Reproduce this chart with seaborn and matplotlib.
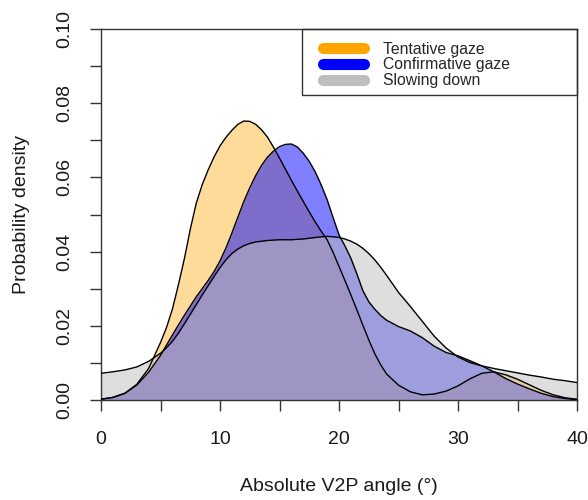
import numpy as np
import pandas as pd
import seaborn as sns
import matplotlib.pyplot as plt
from matplotlib.patches import Rectangle
from matplotlib.lines import Line2D

# density curves (x = absolute V2P angle)
angle = [0, 1, 2, 3, 4,
         5, 5.5, 6, 6.5, 7, 7.5, 8, 8.5, 9, 9.5, 10, 10.5, 11, 11.5, 12, 12.5,
         13, 13.5, 14, 14.5, 15, 15.5, 16, 16.5, 17, 17.5, 18, 18.5, 19, 19.5,
         20, 20.5, 21, 21.5, 22, 22.5, 23, 23.5, 24,
         25, 26, 27, 28, 29, 30, 31, 32, 33, 34, 35, 36, 37, 38, 39, 40]

tentative = [0.0002, 0.0007, 0.0018, 0.0042, 0.0085,
             0.0155, 0.0195, 0.0245, 0.0310, 0.0380, 0.0460, 0.0530, 0.0580, 0.0620, 0.0655,
             0.0685, 0.0708, 0.0727, 0.0743, 0.0752, 0.0751, 0.0743, 0.0728, 0.0708, 0.0681,
             0.0652, 0.0622, 0.0592, 0.0563, 0.0535, 0.0507, 0.0480, 0.0455, 0.0432, 0.0398,
             0.0360, 0.0322, 0.0283, 0.0243, 0.0202, 0.0162, 0.0125, 0.0095, 0.0070,
             0.0040, 0.0022, 0.0014, 0.0016, 0.0024, 0.0038, 0.0057, 0.0072, 0.0076, 0.0068,
             0.0056, 0.0041, 0.0026, 0.0014, 0.0006, 0.0002]

confirmative = [0.0002, 0.0007, 0.0018, 0.0040, 0.0075,
                0.0120, 0.0148, 0.0175, 0.0202, 0.0228, 0.0253, 0.0278, 0.0300, 0.0322, 0.0346,
                0.0375, 0.0410, 0.0450, 0.0493, 0.0535, 0.0572, 0.0605, 0.0633, 0.0655, 0.0671,
                0.0683, 0.0689, 0.0690, 0.0682, 0.0665, 0.0643, 0.0615, 0.0580, 0.0540, 0.0492,
                0.0445, 0.0415, 0.0382, 0.0340, 0.0295, 0.0265, 0.0245, 0.0228, 0.0215,
                0.0198, 0.0186, 0.0168, 0.0145, 0.0128, 0.0119, 0.0106, 0.0092, 0.0076, 0.0058,
                0.0043, 0.0030, 0.0018, 0.0009, 0.0004, 0.0001]

slowing = [0.0072, 0.0076, 0.0081, 0.0089, 0.0104,
           0.0126, 0.0141, 0.0158, 0.0180, 0.0205, 0.0231, 0.0257, 0.0283, 0.0308, 0.0333,
           0.0357, 0.0378, 0.0395, 0.0407, 0.0416, 0.0422, 0.0426, 0.0428, 0.0430, 0.0431,
           0.0432, 0.0432, 0.0432, 0.0433, 0.0434, 0.0436, 0.0438, 0.0440, 0.0441, 0.0440,
           0.0438, 0.0434, 0.0428, 0.0420, 0.0409, 0.0395, 0.0378, 0.0358, 0.0336,
           0.0290, 0.0252, 0.0212, 0.0172, 0.0140, 0.0116, 0.0101, 0.0092, 0.0085, 0.0079,
           0.0073, 0.0067, 0.0062, 0.0056, 0.0052, 0.0047]

labels = ["Tentative gaze", "Confirmative gaze", "Slowing down"]
line_cols = ["orange", "blue", "#BEBEBE"]
fill_cols = [(1.0, 0.647, 0.0, 0.4), (0.0, 0.0, 1.0, 0.5), (0.745, 0.745, 0.745, 0.5)]

x_ticks = [0, 10, 20, 30, 40]
y_ticks = [0.00, 0.02, 0.04, 0.06, 0.08, 0.10]

df = pd.DataFrame({"angle": angle * 3,
                   "density": tentative + confirmative + slowing,
                   "group": sum([[g] * len(angle) for g in labels], [])})

sns.set_theme(style="ticks")
plt.rcParams['font.family'] = ['Liberation Sans', 'DejaVu Sans']

fig = plt.figure(figsize=(5.88, 5.0), dpi=100)
ax = fig.add_axes([0.1718, 0.2, 0.8095, 0.742])

for g, fc in zip(labels, fill_cols):
    sub = df[df["group"] == g]
    ax.fill_between(sub["angle"], sub["density"], 0, color=fc, lw=0, zorder=2)
    sns.lineplot(data=sub, x="angle", y="density", color="black", lw=1.0,
                 ax=ax, legend=False, zorder=3)

ax.set_xlim(0, 40)
ax.set_ylim(0, 0.10)
ax.set_xticks(x_ticks)
ax.set_xticks([5, 15, 25, 35], minor=True)
ax.set_yticks(y_ticks)
ax.set_yticks([0.01, 0.03, 0.05, 0.07, 0.09], minor=True)
ax.set_yticklabels(["%.2f" % v for v in y_ticks], rotation=90, va="center")
ax.tick_params(which="both", length=8, width=1, color="#333333", labelsize=14,
               labelcolor="#1a1a1a")
ax.tick_params(axis="x", pad=14)
ax.tick_params(axis="y", pad=12)
for s in ax.spines.values():
    s.set_color("#333333")
    s.set_linewidth(1)

ax.set_xlabel("Absolute V2P angle (°)", fontsize=14, color="#1a1a1a", labelpad=22)
ax.set_ylabel("Probability density", fontsize=14, color="#1a1a1a", labelpad=19)

# legend box like R's
ax.add_patch(Rectangle((0.422, 0.822), 0.578, 0.178, transform=ax.transAxes,
                       fill=False, ec="#333333", lw=1, zorder=5, clip_on=False))
handles = [Line2D([0], [0], color=c, lw=8, solid_capstyle="round") for c in line_cols]
ax.legend(handles, labels, loc="upper left", bbox_to_anchor=(0.441, 1.0),
          frameon=False, fontsize=11.3, handlelength=2.6, handletextpad=1.2,
          labelspacing=0.06, borderpad=0.8, borderaxespad=0.0)

fig.savefig("out.png", dpi=100)
